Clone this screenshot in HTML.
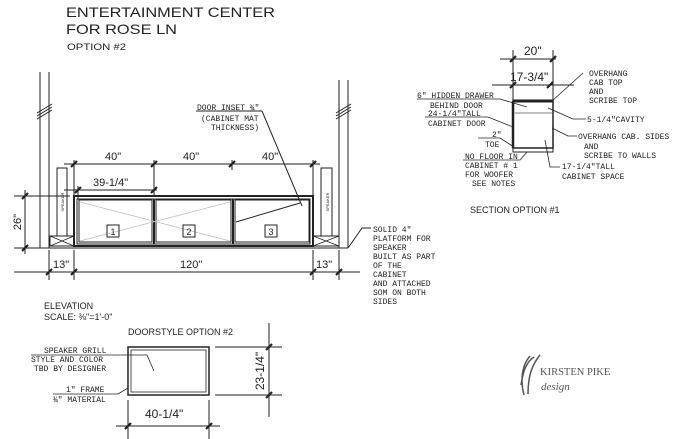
<!DOCTYPE html>
<html><head><meta charset="utf-8"><style>
html,body{margin:0;padding:0;background:#fff;}
svg{display:block;}
.t{font-family:"Liberation Sans",sans-serif;fill:#222;}
.m{font-family:"Liberation Mono",monospace;fill:#222;font-size:8px;}
</style></head><body>
<svg width="693" height="439" viewBox="0 0 693 439" xmlns="http://www.w3.org/2000/svg">
<g class="t">
<text x="66" y="17" font-size="14" textLength="209" lengthAdjust="spacingAndGlyphs">ENTERTAINMENT CENTER</text>
<text x="66" y="34" font-size="14" textLength="111" lengthAdjust="spacingAndGlyphs">FOR ROSE LN</text>
<text x="67" y="50" font-size="9" textLength="59" lengthAdjust="spacingAndGlyphs">OPTION #2</text>
</g>
<g stroke="#222" fill="none" stroke-width="1">
<line x1="40" y1="72" x2="40" y2="248"/><line x1="49" y1="72" x2="49" y2="248"/>
<line x1="339" y1="80" x2="339" y2="248"/><line x1="348" y1="80" x2="348" y2="248"/>
<path d="M37 116 L52 107 M37 119 L52 110 M37 113 L52 104"/>
<path d="M336 116 L351 107 M336 119 L351 110 M336 113 L351 104"/>
<line x1="14" y1="248" x2="348" y2="248"/>
<path d="M348 248 L362 228 L371 228"/>
<rect x="74" y="196" width="239" height="50" stroke-width="2"/>
<rect x="77" y="199" width="233" height="45"/>
<line x1="154" y1="199" x2="154" y2="244" stroke-width="2"/>
<line x1="233" y1="199" x2="233" y2="244" stroke-width="2"/>
<rect x="79" y="200" width="73" height="42"/>
<rect x="156" y="200" width="75" height="42"/>
<rect x="235" y="200" width="74" height="42"/>
<path d="M80 202 L230 241 M80 241 L230 202" stroke="#bbb" stroke-width="0.7"/>
<line x1="236" y1="222" x2="300" y2="203"/>
<rect x="107" y="225" width="12" height="12"/>
<rect x="183" y="225" width="12" height="12"/>
<rect x="265" y="225" width="12" height="12"/>
<rect x="57" y="168" width="10" height="68"/>
<rect x="321" y="168" width="11" height="68"/>
<rect x="50" y="236" width="24" height="10"/>
<rect x="313" y="236" width="26" height="10"/>
<path d="M50 236 L74 246 M50 246 L74 236 M313 236 L339 246 M313 246 L339 236" stroke-width="0.7"/>
<line x1="64" y1="164" x2="320" y2="164"/>
<line x1="74" y1="160" x2="74" y2="196"/><line x1="313" y1="160" x2="313" y2="196"/>
<line x1="154" y1="160" x2="154" y2="196"/><line x1="232" y1="160" x2="232" y2="170"/>
<line x1="64" y1="190" x2="157" y2="190"/>
<line x1="78" y1="186" x2="78" y2="199"/>
<line x1="14" y1="196" x2="70" y2="196"/>
<line x1="25" y1="190" x2="25" y2="254"/>
<line x1="14" y1="272" x2="360" y2="272"/>
<line x1="49" y1="250" x2="49" y2="280"/><line x1="74" y1="250" x2="74" y2="280"/>
<line x1="313" y1="250" x2="313" y2="280"/><line x1="339" y1="250" x2="339" y2="280"/>
<g stroke-width="2.2">
<path d="M71 167 L77 161 M151 167 L157 161 M229 167 L235 161 M310 167 L316 161"/>
<path d="M75 193 L81 187 M151 193 L157 187"/>
<path d="M22 199 L28 193 M22 251 L28 245"/>
<path d="M46 275 L52 269 M71 275 L77 269 M310 275 L316 269 M336 275 L342 269"/>
</g>
<line x1="196" y1="111" x2="262" y2="111"/>
<line x1="262" y1="111" x2="302" y2="206"/>
</g>
<g class="t" font-size="11">
<text x="105" y="160">40"</text><text x="183" y="160">40"</text><text x="262" y="160">40"</text>
<text x="93" y="186">39-1/4"</text>
<text x="53" y="268">13"</text><text x="180" y="268">120"</text><text x="316" y="268">13"</text>
<text transform="translate(21 222) rotate(-90)" text-anchor="middle">26"</text>
</g>
<g class="t" font-size="9" text-anchor="middle">
<text x="113" y="235">1</text><text x="189" y="235">2</text><text x="271" y="235">3</text>
</g>
<g class="t" font-size="4" fill="#999">
<text transform="translate(64 202) rotate(-90)" text-anchor="middle">SPEAKER</text>
<text transform="translate(329 202) rotate(-90)" text-anchor="middle">SPEAKER</text>
</g>
<g class="m" font-size="7.5">
<text x="197" y="110">DOOR INSET ¾"</text>
<text x="201" y="121">(CABINET MAT</text>
<text x="211" y="130">THICKNESS)</text>
<text x="373" y="232">SOLID 4"</text>
<text x="373" y="241">PLATFORM FOR</text>
<text x="373" y="250">SPEAKER</text>
<text x="373" y="259">BUILT AS PART</text>
<text x="373" y="268">OF THE</text>
<text x="373" y="277">CABINET</text>
<text x="373" y="286">AND ATTACHED</text>
<text x="373" y="295">SOM ON BOTH</text>
<text x="373" y="304">SIDES</text>
</g>
<!-- section -->
<g stroke="#222" fill="none">
<line x1="513" y1="50" x2="513" y2="101"/><line x1="553" y1="50" x2="553" y2="101"/>
<line x1="500" y1="59" x2="556" y2="59"/>
<line x1="492" y1="85" x2="574" y2="85"/>
<rect x="513" y="101" width="40" height="47" stroke-width="1.5"/>
<line x1="513" y1="101" x2="553" y2="101" stroke-width="3"/>
<line x1="513" y1="101" x2="513" y2="148" stroke-width="2.5"/>
<rect x="513" y="148" width="40" height="4"/>
<line x1="514" y1="113" x2="552" y2="113" stroke="#aaa" stroke-width="1.5"/>
<g stroke-width="2.2"><path d="M510 62 L516 56 M550 62 L556 56 M510 88 L516 82 M547 88 L553 82"/></g>
<g stroke-width="0.8">
<path d="M417 99 L500 99 L527 107"/>
<path d="M425 117 L488 117 L513 127"/>
<path d="M478 138 L500 138 L514 147"/>
<path d="M463 160 L520 160 L527 152"/>
<path d="M552 101 L583 73"/>
<path d="M548 108 L573 119 L586 119"/>
<path d="M552 128 L568 136 L577 136"/>
<path d="M545 140 L550 167 L560 167"/>
</g>
</g>
<g class="t" font-size="12"><text x="524" y="55">20"</text><text x="510" y="81">17-3/4"</text></g>
<g class="m" font-size="7.5">
<text x="589" y="76">OVERHANG</text><text x="589" y="85">CAB TOP</text><text x="589" y="94">AND</text><text x="589" y="103">SCRIBE TOP</text>
<text x="417" y="98">6" HIDDEN DRAWER</text><text x="430" y="108">BEHIND DOOR</text>
<text x="428" y="116">24-1/4"TALL</text><text x="428" y="126">CABINET DOOR</text>
<text x="492" y="137">2"</text><text x="485" y="147">TOE</text>
<text x="465" y="159">NO FLOOR IN</text><text x="465" y="168">CABINET # 1</text><text x="465" y="177">FOR WOOFER</text><text x="472" y="186">SEE NOTES</text>
<text x="587" y="122">5-1/4"CAVITY</text>
<text x="578" y="139">OVERHANG CAB. SIDES</text><text x="584" y="149">AND</text><text x="584" y="158">SCRIBE TO WALLS</text>
<text x="562" y="169">17-1/4"TALL</text><text x="562" y="179">CABINET SPACE</text>
</g>
<text class="t" x="470" y="213" font-size="9">SECTION OPTION #1</text>
<g class="t" font-size="9">
<text x="44" y="309">ELEVATION</text>
<text x="44" y="320">SCALE: ⅜"=1'-0"</text>
<text x="128" y="335">DOORSTYLE OPTION #2</text>
</g>
<g stroke="#222" fill="none">
<rect x="128" y="347" width="81" height="48" stroke-width="1.5"/>
<rect x="131" y="350" width="75" height="42" stroke-width="0.8"/>
<line x1="215" y1="347" x2="282" y2="347"/><line x1="215" y1="395" x2="282" y2="395"/>
<line x1="269" y1="323" x2="269" y2="417"/>
<line x1="116" y1="426" x2="220" y2="426"/>
<line x1="128" y1="400" x2="128" y2="439"/><line x1="209" y1="400" x2="209" y2="439"/>
<g stroke-width="2.2"><path d="M266 350 L272 344 M266 398 L272 392 M125 429 L131 423 M206 429 L212 423"/></g>
<g stroke-width="0.8">
<path d="M31 355 L147 355 L154 371"/>
<path d="M53 394 L118 394 L128 388"/>
</g>
</g>
<g class="t" font-size="12">
<text x="145" y="418">40-1/4"</text>
<text transform="translate(264 371) rotate(-90)" text-anchor="middle">23-1/4"</text>
</g>
<g class="m" font-size="7.5">
<text x="44" y="353">SPEAKER GRILL</text>
<text x="31" y="362">STYLE AND COLOR</text>
<text x="34" y="371">TBD BY DESIGNER</text>
<text x="66" y="392">1" FRAME</text>
<text x="53" y="402">¾" MATERIAL</text>
</g>
<g stroke="#555" fill="none" stroke-width="1.5">
<path d="M524 395 C520 380 522 365 530 356 M528 394 C528 378 531 366 540 355 M521 385 C523 372 526 362 534 357"/>
</g>
<text x="540" y="375" font-family="Liberation Serif,serif" font-size="10.5" fill="#555">KIRSTEN PIKE</text>
<text x="541" y="390" font-family="Liberation Serif,serif" font-style="italic" font-size="11" fill="#555">design</text>
</svg>
</body></html>
